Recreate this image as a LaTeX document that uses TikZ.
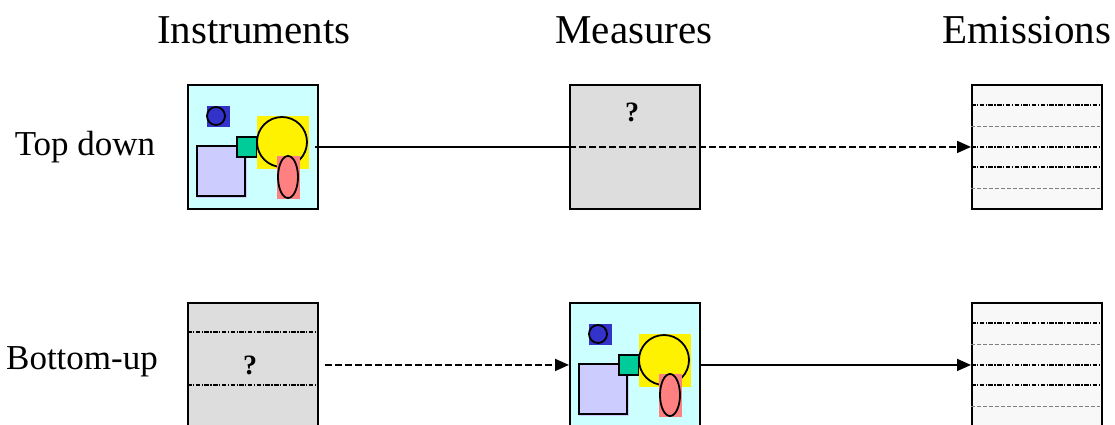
\documentclass[tikz,border=0pt]{standalone}
\usepackage{fontspec}
\setmainfont{Liberation Serif}
\usetikzlibrary{arrows.meta}
\definecolor{instrbg}{HTML}{CCFFFF}
\definecolor{bluesq}{HTML}{3333CC}
\definecolor{lav}{HTML}{CCCCFF}
\definecolor{greensq}{HTML}{00CC99}
\definecolor{pinksq}{HTML}{FF8080}
\definecolor{graybox}{HTML}{DDDDDD}
\definecolor{emisbg}{HTML}{F8F8F8}
\begin{document}
\begin{tikzpicture}[x=1pt,y=-1pt,
  box/.style={draw=black,line width=1.9pt,minimum width=130pt,minimum height=124pt,inner sep=0pt,anchor=north west},
  head/.style={font=\fontsize{41}{45}\selectfont},
  rowlab/.style={font=\fontsize{35}{38}\selectfont},
  qmark/.style={font=\fontsize{28}{30}\selectfont\bfseries},
  shp/.style={draw=black,line width=1.8pt},
  conn/.style={line width=1.7pt},
  tip/.style={-{Triangle[length=14pt,width=12pt]}},
  dashline/.style={dash pattern=on 7pt off 3pt},
  thickdot/.style={line width=2.2pt,dash pattern=on 4.5pt off 1.5pt on 1.2pt off 1.5pt},
  thindash/.style={line width=0.6pt,draw=gray,dash pattern=on 4pt off 2pt},
  instr/.pic={
    \fill[bluesq] (20,22) rectangle (43,43);
    \draw[shp] (29,32) circle[radius=9pt];
    \fill[lav] (10,62) rectangle (60,114);
    \draw[shp] (10,62) rectangle (58,112);
    \filldraw[shp,fill=greensq] (50,53) rectangle (70,73);
    \fill[yellow] (70,32) rectangle (122,85);
    \draw[shp] (95,58) circle[radius=25pt];
    \fill[pinksq] (90,72) rectangle (113,115);
    \draw[shp] (101,93) ellipse[x radius=10pt,y radius=21pt];
  },
  emis/.pic={
    \draw[thickdot] (0,21) -- (129,21);
    \draw[thindash] (0,42) -- (129,42);
    \draw[thickdot] (0,63) -- (129,63);
    \draw[thickdot] (0,83) -- (129,83);
    \draw[thindash] (0,104) -- (129,104);
  }]
\useasboundingbox (0,0) rectangle (1115,425);
\clip (0,0) rectangle (1115,425);

% headings
\node[head] (hI) at (254,30) {Instruments};
\node[head] (hM) at (634,30) {Measures};
\node[head] (hE) at (1027,30) {Emissions};
\node[rowlab] (lT) at (85,147) {Top down};
\node[rowlab] (lB) at (82,362) {Bottom-up};

% top row
\node[box,fill=instrbg] (i1) at (187,84) {};
\pic at (187,84) {instr};
\node[box,fill=graybox] (m1) at (569,84) {};
\node[qmark] (q1) at (632,112) {?};
\node[box,fill=emisbg] (e1) at (971,84) {};
\pic at (971,84) {emis};

% bottom row
\node[box,fill=graybox] (g2) at (187,302) {};
\draw[thickdot] (g2.west |- 0,332) -- (g2.east |- 0,332);
\draw[thickdot] (g2.west |- 0,385) -- (g2.east |- 0,385);
\node[qmark] (q2) at (250,365) {?};
\node[box,fill=instrbg] (m2) at (569,302) {};
\pic at (569,302) {instr};
\node[box,fill=emisbg] (e2) at (971,302) {};
\pic at (971,302) {emis};

% connectors
\draw[conn] ([xshift=-4pt]i1.east) -- (m1.west);
\draw[conn,dashline,tip] (m1.west) -- (e1.west);
\draw[conn,dashline,tip] ([xshift=6pt]g2.east) -- (m2.west);
\draw[conn,tip] (m2.east) -- (e2.west);
\end{tikzpicture}
\end{document}
